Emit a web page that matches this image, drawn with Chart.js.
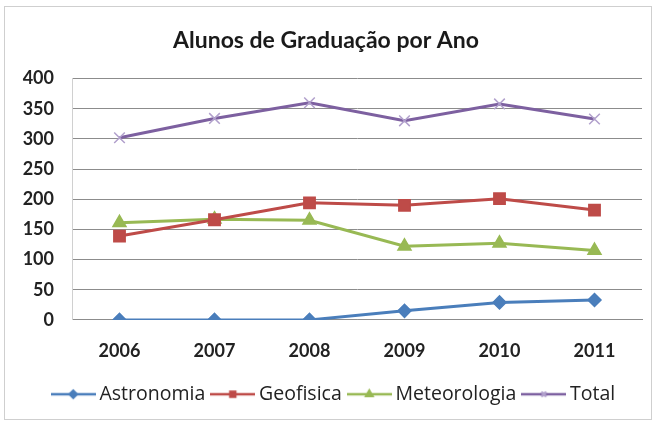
<!DOCTYPE html>
<html>
<head>
<meta charset="utf-8">
<script src="https://cdn.jsdelivr.net/npm/chart.js@4"></script>
<style>
  html, body { margin: 0; padding: 0; background: #fff; }
  #wrap { position: relative; width: 657px; height: 422px; }
  #frame { position: absolute; left: 4px; top: 6px; width: 646px; height: 412px;
           border: 1px solid #cfcfcf; pointer-events: none; }
</style>
</head>
<body>
<div id="wrap">
  <canvas id="chart" width="657" height="422"></canvas>
  <div id="frame"></div>
</div>
<script>
const anos = ["2006", "2007", "2008", "2009", "2010", "2011"];
const astronomia = [0, 0, 0, 15, 29, 33];
const geofisica = [139, 166, 194, 190, 201, 182];
const meteorologia = [161, 167, 165, 122, 127, 115];
const total = [302, 334, 360, 330, 358, 333];
const yTicks = [0, 50, 100, 150, 200, 250, 300, 350, 400];

const FONT = "Lato, 'Open Sans', sans-serif";

// legend swatch: line with a small marker in the middle
function swatch(color, style, markColor, r) {
  const c = document.createElement("canvas");
  c.width = 45; c.height = 16;
  const ctx = c.getContext("2d");
  ctx.strokeStyle = color;
  ctx.lineWidth = 2.5;
  ctx.beginPath();
  ctx.moveTo(0, 8); ctx.lineTo(45, 8);
  ctx.stroke();
  ctx.fillStyle = markColor;
  ctx.strokeStyle = markColor;
  Chart.helpers.drawPoint(ctx, { pointStyle: style, radius: r, borderWidth: 1.5, rotation: 0 }, 22.5, 8);
  return c;
}

const series = [
  { label: "Astronomia", data: astronomia, color: "#4a7ebb", style: "rectRot", mark: "#4a7ebb", r: 6.5 },
  { label: "Geofisica", data: geofisica, color: "#be4b48", style: "rect", mark: "#be4b48", r: 8 },
  { label: "Meteorologia", data: meteorologia, color: "#98b954", style: "triangle", mark: "#98b954", r: 7.5 },
  { label: "Total", data: total, color: "#7d60a0", style: "crossRot", mark: "#b1a0cc", r: 7.5 }
];

// the legend in the original sits a bit right of centre
const shiftLegend = {
  id: "shiftLegend",
  afterLayout(chart) {
    chart.legend.left += 10;
    chart.legend.right += 10;
  }
};

new Chart(document.getElementById("chart"), {
  type: "line",
  plugins: [shiftLegend],
  data: {
    labels: anos,
    datasets: series.map(s => ({
      label: s.label,
      data: s.data,
      borderColor: s.color,
      backgroundColor: s.mark,
      borderWidth: 3,
      tension: 0,
      pointStyle: s.style,
      pointRadius: s.r,
      pointBorderColor: s.mark,
      pointBackgroundColor: s.mark,
      pointBorderWidth: 1.5,
      swatch: swatch(s.color, s.style, s.mark, 3.5)
    }))
  },
  options: {
    responsive: false,
    animation: false,
    layout: { padding: { left: 10, right: 15, top: 10, bottom: 8 } },
    plugins: {
      title: {
        display: true,
        text: "Alunos de Graduação por Ano",
        color: "#1a1a1a",
        font: { family: FONT, size: 23, weight: "bold" },
        padding: { top: 17, bottom: 24 }
      },
      legend: {
        position: "bottom",
        labels: {
          usePointStyle: true,
          pointStyleWidth: 33,
          color: "#222",
          font: { family: "'Open Sans', sans-serif", size: 19.5 },
          padding: 11,
          generateLabels: chart => chart.data.datasets.map((d, i) => ({
            text: d.label,
            pointStyle: d.swatch,
            datasetIndex: i,
            hidden: false,
            lineWidth: 0,
            fontColor: "#222"
          }))
        }
      },
      tooltip: { enabled: false }
    },
    scales: {
      x: {
        offset: true,
        grid: { display: false },
        border: { display: true, color: "#8c8c8c" },
        ticks: { color: "#222", font: { family: FONT, size: 18, weight: "bold" }, padding: 12 }
      },
      y: {
        min: 0,
        max: 400,
        afterFit: scale => { scale.width = 62; },
        afterBuildTicks: scale => { scale.ticks = yTicks.map(v => ({ value: v })); },
        grid: { color: "#8c8c8c", lineWidth: 1, drawTicks: false },
        border: { display: true, color: "#d0d0d0" },
        ticks: { color: "#222", font: { family: FONT, size: 18, weight: "bold" }, padding: 18 }
      }
    }
  }
});
</script>
</body>
</html>
